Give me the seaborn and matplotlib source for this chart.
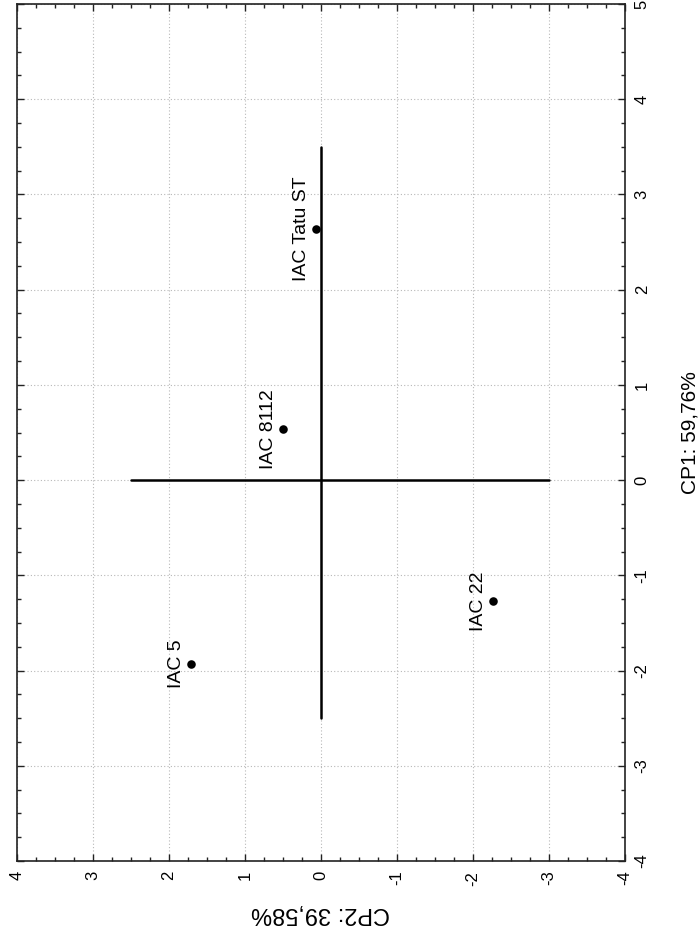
import numpy as np
import pandas as pd
import matplotlib
matplotlib.use("Agg")
import matplotlib.pyplot as plt
import seaborn as sns
from matplotlib.ticker import MultipleLocator

# PCA scores (CP1 / CP2)
cultivars = ["IAC Tatu ST", "IAC 8112", "IAC 5", "IAC 22"]
cp1 = [2.64, 0.54, -1.93, -1.27]
cp2 = [0.07, 0.50, 1.71, -2.26]

# extent of the axis lines drawn through the origin
cp1_axis_extent = [-2.5, 3.5]
cp2_axis_extent = [-3.0, 2.5]

cp1_label = "CP1: 59,76%"
cp2_label = "CP2: 39,58%"

# the chart is shown turned 90 degrees: CP2 runs horizontally (reversed), CP1 vertically
cp1_limits = (-4, 5)
cp2_limits = (4, -4)

df = pd.DataFrame({"cultivar": cultivars, "cp1": cp1, "cp2": cp2})

sns.set_theme(style="white")
plt.rcParams["font.family"] = ["Liberation Sans", "DejaVu Sans"]
plt.rcParams["axes.unicode_minus"] = False

fig = plt.figure(figsize=(7, 9.43), dpi=100)
ax = fig.add_axes([17 / 700, 1 - 861 / 943, (625 - 17) / 700, (861 - 4) / 943])

# axes through origin
ax.plot([0, 0], cp1_axis_extent, color="black", linewidth=1.8, zorder=2)
ax.plot(cp2_axis_extent, [0, 0], color="black", linewidth=1.8, zorder=2)

sns.scatterplot(data=df, x="cp2", y="cp1", color="black", s=38,
                edgecolor="black", linewidth=0, ax=ax, zorder=3)

for _, row in df.iterrows():
    ax.annotate(row["cultivar"], (row["cp2"], row["cp1"]),
                xytext=(-4, 0), textcoords="offset points",
                rotation=90, ha="right", va="center", fontsize=14,
                fontweight="medium", color="black")

ax.set_xlim(*cp2_limits)
ax.set_ylim(*cp1_limits)

ax.xaxis.set_major_locator(MultipleLocator(1))
ax.xaxis.set_minor_locator(MultipleLocator(0.25))
ax.yaxis.set_major_locator(MultipleLocator(1))
ax.yaxis.set_minor_locator(MultipleLocator(0.25))

ax.yaxis.tick_right()
ax.yaxis.set_label_position("right")
ax.tick_params(which="both", direction="in", top=True, bottom=True,
               left=True, right=True, labelleft=False, labelright=True,
               labeltop=False, labelbottom=True, color="#222222")
ax.tick_params(which="major", length=5, width=1, labelsize=12, pad=7,
               labelcolor="black")
ax.tick_params(which="minor", length=3, width=1)
for lab in ax.get_yticklabels():
    lab.set_rotation(90)
    lab.set_ha("left")
    lab.set_va("center")
for lab in ax.get_xticklabels():
    lab.set_rotation(90)
    lab.set_ha("center")
    lab.set_va("top")

ax.set_xlabel(cp2_label, fontsize=17, rotation=180, labelpad=12, color="black")
ax.set_ylabel(cp1_label, fontsize=15, rotation=90, labelpad=22, color="black")

ax.grid(True, which="major", color="#b8b8b8", linestyle=(0, (1, 2)), linewidth=0.8)
ax.set_axisbelow(True)
for sp in ax.spines.values():
    sp.set_color("#222222")
    sp.set_linewidth(1.2)

fig.savefig("out.png", dpi=100)
